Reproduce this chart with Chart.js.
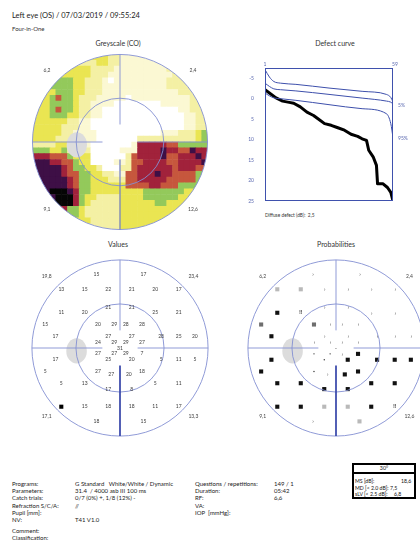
<!DOCTYPE html>
<html><head><meta charset="utf-8">
<script src="https://cdn.jsdelivr.net/npm/chart.js@4.4.1/dist/chart.umd.min.js"></script>
<style>
html,body{margin:0;padding:0;background:#fff;width:420px;height:542px;overflow:hidden;font-family:Lato,"Open Sans",sans-serif;color:#222}
.t{position:absolute;white-space:pre;line-height:1}
.c{position:absolute;width:120px;text-align:center;white-space:pre;line-height:1}
canvas{position:absolute}
.f{font-size:6px;color:#222}
.b{font-size:5.2px;color:#111}
#box{position:absolute;left:352px;top:463px;width:60px;height:32px;border:2px solid #000}
#boxh{position:absolute;left:0;top:0;width:60px;height:7px;border-bottom:2px solid #000;font-size:5.3px;text-align:center;line-height:7px}
</style></head><body>

<div class="t" style="left:12px;top:12px;font-size:7.5px;color:#222">Left eye (OS) / 07/03/2019 / 09:55:24</div>
<div class="t" style="left:12px;top:26px;font-size:6px;color:#333">Four-in-One</div>
<div class="c" style="left:58px;top:39.5px;font-size:7px;color:#333">Greyscale (CO)</div>
<div class="c" style="left:275px;top:39.5px;font-size:7px;color:#333">Defect curve</div>
<div class="c" style="left:58px;top:241px;font-size:7px;color:#333">Values</div>
<div class="c" style="left:276px;top:241px;font-size:7px;color:#333">Probabilities</div>
<div class="t" style="left:265px;top:213px;font-size:4.8px;color:#333">Diffuse defect (dB):  2,5</div>

<canvas id="grey" width="190" height="190" style="left:25px;top:47px"></canvas>
<canvas id="defect" width="180" height="170" style="left:240px;top:55px"></canvas>
<canvas id="vals" width="190" height="190" style="left:25px;top:253px"></canvas>
<canvas id="prob" width="190" height="190" style="left:241px;top:253px"></canvas>

<div class="t f" style="left:12px;top:481px">Programs:</div>
<div class="t f" style="left:12px;top:488.2px">Parameters:</div>
<div class="t f" style="left:12px;top:495.4px">Catch trials:</div>
<div class="t f" style="left:12px;top:502.6px">Refraction S/C/A:</div>
<div class="t f" style="left:12px;top:509.8px">Pupil [mm]:</div>
<div class="t f" style="left:12px;top:517px">NV:</div>
<div class="t f" style="left:12px;top:528px">Comment:</div>
<div class="t f" style="left:12px;top:535.3px">Classification:</div>

<div class="t f" style="left:75px;top:481px">G Standard   White/White / Dynamic</div>
<div class="t f" style="left:75px;top:488.2px">31.4  / 4000 asb III 100 ms</div>
<div class="t f" style="left:75px;top:495.4px">0/7 (0%) +, 1/8 (12%) -</div>
<div class="t f" style="left:75px;top:502.6px">//</div>
<div class="t f" style="left:75px;top:517px">T41 V1.0</div>

<div class="t f" style="left:195px;top:481px">Questions / repetitions:</div>
<div class="t f" style="left:195px;top:488.2px">Duration:</div>
<div class="t f" style="left:195px;top:495.4px">RF:</div>
<div class="t f" style="left:195px;top:502.6px">VA:</div>
<div class="t f" style="left:195px;top:509.8px">IOP  [mmHg]:</div>
<div class="t f" style="left:274px;top:481px">149 / 1</div>
<div class="t f" style="left:274px;top:488.2px">05:42</div>
<div class="t f" style="left:274px;top:495.4px">6,6</div>

<div id="box"><div id="boxh">30°</div>
<div class="t b" style="left:1px;top:14px">MS [dB]:</div><div class="t b" style="left:47px;top:14px">18,6</div>
<div class="t b" style="left:1px;top:20.5px">MD [&lt; 2.0 dB]:</div><div class="t b" style="left:36px;top:20.5px">7,5</div>
<div class="t b" style="left:1px;top:27px">sLV [&lt; 2.5 dB]:</div><div class="t b" style="left:40px;top:27px">6,8</div>
</div>

<script>
// ---------------- DATA ----------------
// Greyscale map, 30x30 cells of 2 degrees
const greyRows = [
"YYYYYYYYYYYYYLLCCCCCCCCCCCCCCC",
"LLLLLLLLLLLYYLLCCCCCCCCCCCCCCC",
"YYYYYYYYYYLLLLCCCCCCCCCLLLLLLL",
"YYYYYYYYYYLLLCCCCCCCCCCCLLLLLL",
"GGGGGGGYYLLLCWCCCCCCCCCLLLLLLL",
"GGGGGGGYYLLLCCCCCCCCCCCLLLLLLL",
"YYYYGGGYYLLLCCCCCCCCCCCCCLLLLL",
"YYYGOGGYLLLCCCCCWCCCCCCCCCCLLL",
"YYYGGGGYLLCCCCWWWWWWWWCCCCCLLL",
"YYYGOGGYLLCCWWWWWWWWWWWWWCCLLL",
"YYYGGGYYLLCCWWWWWWWWWWWWWWCCLL",
"YYYYYYLLCCWWWWWWWWWWWWWWWWCCLL",
"YYYYYLLLCCWWWWWWWWWWWWWWWWCCLL",
"YYYYYLLCCCCWWWWWWWWWWWCCCLLLYG",
"YYYYLLLCCCCWWWWWWWLLLLLLLLLLYG",
"LLLLYYCCCCWWWWWWWCRRRRROOGGGGG",
"GGGYYGLLLLWWWWWCCCRRRRPRROOPRR",
"RRROOOGYYYWWWWWWLORRRRPOORRRPR",
"PPPRROOGYYWWWWCCLOORRRROORRRRP",
"PPPPPROGGYYLWWWLLORRRRRRORRROO",
"PPPPPROOGGYYLLCCOORRRPRROOOOGG",
"PPPPPPROGGYYYLLLOORRRRROOOOOGG",
"PPPPPPROGGYYYYYYOOOORROOOGGGGY",
"PPPKKKPRGGYYYYYYYYYGGGGGGGYYYY",
"PPPPKKKRGYYLLLLYYYYGGGGGGYYYYY",
"KKKKKKKRGYLLLLLYYYYYYGGYYYYYYY",
"RRRRRRGGYLLLLLLYYYYYYYYYYYYYYY",
"GGGGGGGGYLLLLLLYYYYYYYYYYYYYYY",
"YYYYYYYYYYLLLLLYYYYYYYYYYYYYYY",
"LLLLLLLLLLLLLLLYYYYYYYYYYYYYYY"
];
// 59 test locations (degrees), threshold values and probability classes
const ptX = [-8,8,-20,-12,-4,4,12,20,-20,-12,-4,4,12,20,-25.5,-7.5,-2,2,7.5,-22,-4,4,14,20,25.5,-7.5,-2,2,7.5,0,-7.5,-2,2,7.5,-22,-4,4,14,20,25.5,-25.5,-7.5,-3,3,7.5,-20,-12,-4,4,12,20,-20,-12,-4,4,12,20,-8,8];
const ptY = [25,25,20,20,20,20,20,20,12,12,14,14,12,12,8,8,8,8,8,4,4,4,4,4,4,2,2,2,2,0,-2,-2,-2,-2,-4,-4,-4,-4,-4,-4,-8,-8,-9,-9,-8,-12,-12,-14,-14,-12,-12,-20,-20,-20,-20,-20,-20,-25,-25];
const ptValues = [15,17,13,15,22,21,20,17,11,20,21,21,25,21,15,20,29,28,28,17,27,27,28,25,20,24,29,29,27,31,27,27,29,7,17,25,20,5,11,5,5,27,27,20,18,5,13,17,8,5,11,0,15,18,18,11,17,18,15];
const ptProb = ['n','n','g1','g1','n','n','n','n','b','x','n','n','n','n','g2','g2','n','n','n','b','n','n','n','n','n','n','n','n','n','c','d','d','n','b','b','d','b','b','b','b','b','d','n','b','b','b','b','b','b','b','b','b','b','g1','g1','b','x','n','g1'];
const greyCorners  = ['6,2','2,4','9,1','12,6'];
const valueCorners = ['19,8','23,4','17,1','13,3'];
const probCorners  = ['6,2','2,4','9,1','12,6'];
// Defect curve (Bebie): rank vs dB
const normRank = [1,3,5,8,15,30,45,56,58,59];
const normTop  = [-7.1,-5.3,-4.2,-3.8,-3.5,-2.6,-1.8,-1.05,-0.3,0.8];
const norm5    = [-3.8,-3.0,-2.4,-2.2,-1.9,-1.05,-0.15,0.58,0.85,1.3];
const norm95   = [-1.4,-0.7,-0.2,0.0,0.4,1.46,2.44,3.66,6.1,9.5];
const defectRank = [1,3,6,9,12,14,17,20,23,25,28,31,34,37,40,43,45,47,48,50,51.5,52,54.5,56.5,58,59];
const defectDb   = [-2.2,-1.4,-0.2,0.6,0.9,1.1,2.0,3.3,4.1,4.9,6.1,6.5,7.1,7.7,8.7,9.2,9.8,10.2,12.6,14.2,16.3,20.8,20.8,21.7,22.9,25];
const defectTicksY = [-5,0,5,10,15,20,25];
const defectTicksX = [1,59];

// ---------------- STYLE ----------------
const greyPalette = {W:'#ffffff',C:'#fbf8d3',L:'#f4f0a4',Y:'#eae552',G:'#93c95b',O:'#c6573d',R:'#a1223b',P:'#3e0f46',K:'#050505'};
const probColors = {b:'#111111',g1:'#b9b9b9',g2:'#6e6e6e'};
const FONT = 'Lato, "Open Sans", sans-serif';

function decor(opts){
  return {
    id:'decor',
    beforeDatasetDraw(chart,args){
      if(opts.clipFirst && args.index===0){
        const {ctx}=chart, sx=chart.scales.x, sy=chart.scales.y;
        ctx.save(); ctx.beginPath();
        ctx.arc(sx.getPixelForValue(0), sy.getPixelForValue(0), sx.getPixelForValue(30)-sx.getPixelForValue(0), 0, Math.PI*2);
        ctx.clip();
      }
    },
    afterDatasetDraw(chart,args){ if(opts.clipFirst && args.index===0) chart.ctx.restore(); },
    afterDatasetsDraw(chart){
      const {ctx}=chart, sx=chart.scales.x, sy=chart.scales.y;
      const X=v=>sx.getPixelForValue(v), Y=v=>sy.getPixelForValue(v), u=X(1)-X(0);
      ctx.save();
      ctx.fillStyle='#dcdcdc';
      ctx.beginPath(); ctx.ellipse(X(-14.8),Y(-1),3.5*u,4.3*u,0,0,Math.PI*2); ctx.fill();
      ctx.strokeStyle='#8390d2'; ctx.lineWidth=0.9;
      [30,15].forEach(r=>{ctx.beginPath(); ctx.arc(X(0),Y(0),r*u,0,Math.PI*2); ctx.stroke();});
      const seg=(a,b,c,d)=>{ctx.beginPath();ctx.moveTo(X(a),Y(b));ctx.lineTo(X(c),Y(d));ctx.stroke();};
      seg(-30,0,-6,0); seg(6,0,30,0); seg(0,30,0,6);
      ctx.strokeStyle=opts.lowColor; ctx.lineWidth=opts.lowWidth; seg(0,-6,0,-30);
      ctx.fillStyle='#444'; ctx.font='5px '+FONT; ctx.textAlign='center'; ctx.textBaseline='middle';
      const cp=[[-25,24.5],[25,24.5],[-25,-23.2],[25,-23.2]];
      opts.corners.forEach((t,i)=>ctx.fillText(t,X(cp[i][0]),Y(cp[i][1])));
      if(opts.text) opts.text(ctx,X,Y);
      ctx.restore();
    }
  };
}
function polarChart(id, datasets, plug){
  return new Chart(document.getElementById(id), {
    type:'scatter', data:{datasets},
    options:{responsive:false, animation:false, events:[], layout:{padding:0},
      scales:{x:{type:'linear',min:-31,max:31,display:false}, y:{type:'linear',min:-31,max:31,display:false}},
      plugins:{legend:{display:false},tooltip:{enabled:false}}},
    plugins:[plug]
  });
}

// Greyscale
const greyPoints=[];
greyRows.forEach((row,r)=>{ for(let c=0;c<30;c++){ const x=-29+2*c, y=29-2*r; if(x*x+y*y<=32*32) greyPoints.push({x,y,code:row[c]||row[row.length-1]}); }});
polarChart('grey',[{data:greyPoints,pointStyle:'rect',pointRadius:4.55,pointBorderWidth:0,
  pointBackgroundColor:ctx=>greyPalette[ctx.raw?ctx.raw.code:'W']}],
  decor({clipFirst:true,corners:greyCorners,lowColor:'#6e7cc8',lowWidth:1.2}));

// Values
const pts = ptX.map((x,i)=>({x,y:ptY[i],v:ptValues[i],p:ptProb[i]}));
polarChart('vals',[{data:pts.filter(p=>p.v===0),pointStyle:'rect',pointRadius:2.9,pointBorderWidth:0,pointBackgroundColor:'#000'}],
  decor({corners:valueCorners,lowColor:'#3444a8',lowWidth:1.7,text:(ctx,X,Y)=>{
    ctx.fillStyle='#3a3a3a'; ctx.font='5px '+FONT;
    pts.forEach(p=>{ if(p.v>0) ctx.fillText(String(p.v),X(p.x),Y(p.y)); });
  }}));

// Probabilities
polarChart('prob',[
  {data:pts.filter(p=>probColors[p.p]),pointStyle:'rect',pointRadius:2.9,pointBorderWidth:0,pointBackgroundColor:ctx=>probColors[ctx.raw?ctx.raw.p:'b']},
  {data:pts.filter(p=>p.p==='d'),pointStyle:'circle',pointRadius:0.65,pointBorderWidth:0,pointBackgroundColor:'#222'}
], decor({corners:probCorners,lowColor:'#3444a8',lowWidth:1.7,text:(ctx,X,Y)=>{
    pts.forEach(p=>{
      if(p.p==='n'){ctx.fillStyle='#444'; ctx.font='5.5px '+FONT; ctx.fillText('›',X(p.x)+0.5,Y(p.y));}
      else if(p.p==='x'){ctx.fillStyle='#111'; ctx.font='bold 5px '+FONT; ctx.fillText('!!',X(p.x),Y(p.y));}
      else if(p.p==='c'){ctx.fillStyle='#333'; ctx.font='5px '+FONT; ctx.fillText('-',X(p.x),Y(p.y));}
    });
  }}));

// Defect curve
const defectDecor = {id:'defectDecor',
  afterDatasetsDraw(chart){
    const {ctx,chartArea:a}=chart, sx=chart.scales.x, sy=chart.scales.y;
    ctx.save(); ctx.strokeStyle='#3f51ad'; ctx.lineWidth=1;
    ctx.strokeRect(a.left+0.5,a.top+0.5,a.right-a.left-1,a.bottom-a.top-1);
    ctx.font='5px '+FONT; ctx.fillStyle='#5a68b0';
    ctx.textAlign='right'; ctx.textBaseline='middle';
    defectTicksY.forEach(v=>ctx.fillText(String(v), a.left-11, sy.getPixelForValue(v)));
    ctx.textAlign='center'; ctx.textBaseline='bottom';
    defectTicksX.forEach(v=>ctx.fillText(String(v), sx.getPixelForValue(v)+(v===59?2:0), a.top-1));
    ctx.textAlign='left'; ctx.textBaseline='middle';
    ctx.fillText('5%', sx.getPixelForValue(59)+5, sy.getPixelForValue(norm5[norm5.length-1])+1);
    ctx.fillText('95%', sx.getPixelForValue(59)+5, sy.getPixelForValue(norm95[norm95.length-1])+1);
    ctx.restore();
  }};
const blueLine = arr => ({data:normRank.map((r,i)=>({x:r,y:arr[i]})),borderColor:'#3d4fab',borderWidth:1,pointRadius:0,cubicInterpolationMode:'monotone'});
new Chart(document.getElementById('defect'),{
  type:'line',
  data:{datasets:[blueLine(normTop),blueLine(norm5),blueLine(norm95),
    {data:defectRank.map((r,i)=>({x:r,y:defectDb[i]})),borderColor:'#000',borderWidth:3,pointRadius:0,tension:0,borderJoinStyle:'round'}]},
  options:{responsive:false,animation:false,events:[],
    layout:{padding:{left:10,top:5,right:27,bottom:24}},
    scales:{
      x:{type:'linear',position:'top',min:1,max:59,grid:{display:false},border:{display:false},
         ticks:{display:false}, afterFit:s=>{s.height=8;}},
      y:{type:'linear',min:-7.5,max:25,reverse:true,grid:{display:false},border:{display:false},
         ticks:{display:false}, afterFit:s=>{s.width=15;}}
    },
    plugins:{legend:{display:false},tooltip:{enabled:false}}},
  plugins:[defectDecor]
});
</script>
</body></html>
